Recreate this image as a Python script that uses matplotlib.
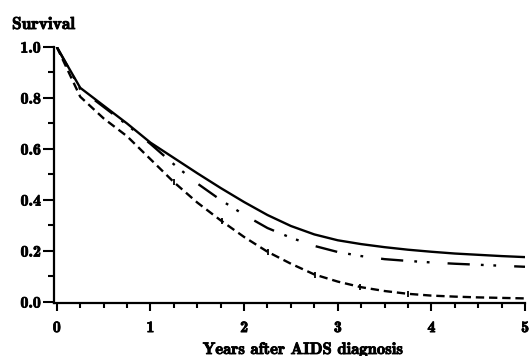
import numpy as np
import matplotlib
matplotlib.use("Agg")
import matplotlib.pyplot as plt
import matplotlib.patheffects as pe
from matplotlib.ticker import MultipleLocator, FormatStrFormatter

# survival curves
years = [0, 0.25, 0.5, 0.75, 1.0, 1.25, 1.5, 1.75, 2.0, 2.25, 2.5, 2.75,
         3.0, 3.25, 3.5, 3.75, 4.0, 4.25, 4.5, 4.75, 5.0]
surv_solid = [1.0, 0.84, 0.77, 0.70, 0.625, 0.565, 0.505, 0.447, 0.392, 0.341,
              0.298, 0.265, 0.242, 0.227, 0.215, 0.205, 0.197, 0.19, 0.185, 0.18, 0.176]
surv_dashdot = [1.0, 0.835, 0.765, 0.695, 0.62, 0.54, 0.465, 0.40, 0.342, 0.29,
                0.252, 0.22, 0.196, 0.18, 0.168, 0.161, 0.155, 0.15, 0.146, 0.142, 0.138]
surv_dashed = [1.0, 0.805, 0.72, 0.65, 0.56, 0.47, 0.39, 0.32, 0.255, 0.197,
               0.15, 0.108, 0.08, 0.058, 0.043, 0.032, 0.025, 0.021, 0.018, 0.016, 0.014]
censor_years = [1.25, 1.76, 2.26, 2.76, 3.24, 3.75]

xticks = [0, 1, 2, 3, 4, 5]
yticks = [0.0, 0.2, 0.4, 0.6, 0.8, 1.0]

plt.rcParams['font.family'] = ['cmb10', 'DejaVu Serif']
plt.rcParams['lines.scale_dashes'] = False

heavy = [pe.withStroke(linewidth=0.6, foreground="black")]

fig = plt.figure(figsize=(5.29, 3.56), dpi=100)
ax = fig.add_axes([54 / 529, 1 - 303 / 356, 471 / 529, 256 / 356])

ax.plot(years, surv_solid, color="black", lw=1.7, solid_capstyle="butt")
ax.plot(years, surv_dashdot, color="black", lw=1.7,
        dashes=(16, 8, 2, 7, 2, 13))
ax.plot(years, surv_dashed, color="black", lw=1.7, dashes=(6, 3.5))
ax.plot(censor_years, np.interp(censor_years, years, surv_dashed), ls="none",
        marker="|", ms=5, mew=1.3, color="black")

ax.set_xlim(-0.03, 5.0)
ax.set_ylim(-0.004, 1.0)
ax.spines['top'].set_visible(False)
ax.spines['right'].set_visible(False)
for s in ['left', 'bottom']:
    ax.spines[s].set_linewidth(1.6)

ax.set_xticks(xticks)
ax.set_yticks(yticks)
ax.xaxis.set_minor_locator(MultipleLocator(0.25))
ax.yaxis.set_minor_locator(MultipleLocator(0.1))
ax.yaxis.set_major_formatter(FormatStrFormatter("%.1f"))
ax.tick_params(axis='y', which='major', length=8, width=1.5, pad=1.5, labelsize=11.5)
ax.tick_params(axis='y', which='minor', length=4, width=1.5)
ax.tick_params(axis='x', which='major', length=6, width=1.5, pad=7, labelsize=11.5)
ax.tick_params(axis='x', which='minor', length=3.5, width=1.5)
for lbl in ax.get_xticklabels() + ax.get_yticklabels():
    lbl.set_path_effects(heavy)

fig.text(12 / 529, 1 - 29 / 356, "Survival", fontsize=12.5, ha="left",
         va="baseline", path_effects=heavy)
fig.text(303 / 529, 1 - 354 / 356, "Years after AIDS diagnosis", fontsize=12,
         ha="center", va="baseline", path_effects=heavy)

fig.savefig("out.png", dpi=100)
